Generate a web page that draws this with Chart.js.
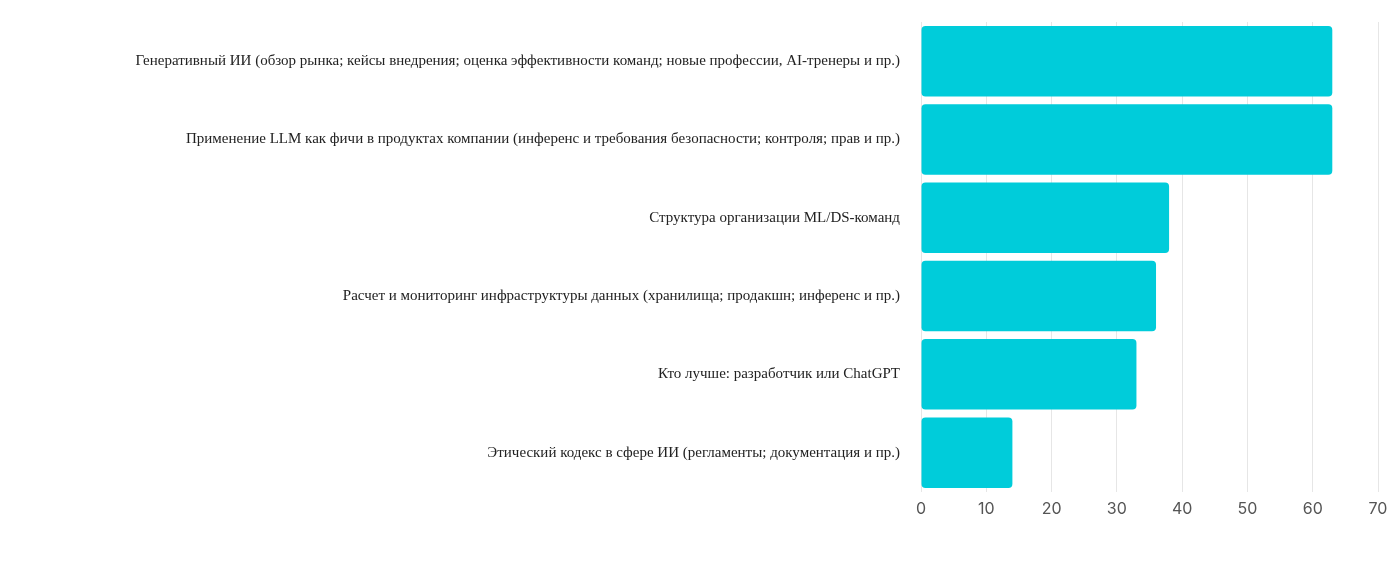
<!DOCTYPE html>
<html><head><meta charset="utf-8">
<script src="https://cdn.jsdelivr.net/npm/chart.js@4/dist/chart.umd.min.js"></script>
<style>html,body{margin:0;padding:0;background:#fff}#w{width:1400px;height:567px}</style>
</head><body><div id="w"><canvas id="c"></canvas></div>
<script>
const categories=["Генеративный ИИ (обзор рынка; кейсы внедрения; оценка эффективности команд; новые профессии, AI-тренеры и пр.)",
"Применение LLM как фичи в продуктах компании (инференс и требования безопасности; контроля; прав и пр.)",
"Структура организации ML/DS-команд",
"Расчет и мониторинг инфраструктуры данных (хранилища; продакшн; инференс и пр.)",
"Кто лучше: разработчик или ChatGPT",
"Этический кодекс в сфере ИИ (регламенты; документация и пр.)"];
const values=[63,63,38,36,33,14];
const xTicks=[0,10,20,30,40,50,60,70];
new Chart(document.getElementById('c'),{type:'bar',
data:{labels:categories,datasets:[{data:values,backgroundColor:'#00CCDA',borderRadius:4,borderSkipped:false,barPercentage:0.9,categoryPercentage:1}]},
options:{indexAxis:'y',responsive:true,maintainAspectRatio:false,animation:false,
layout:{padding:{top:-9,right:22,bottom:40,left:0}},
plugins:{legend:{display:false},tooltip:{enabled:false}},
scales:{x:{min:0,max:70,afterBuildTicks:a=>{a.ticks=xTicks.map(v=>({value:v}));},
grid:{color:'#e6e6e6',drawTicks:false},border:{display:false},
ticks:{padding:8,color:'#555',font:{family:'Inter',size:16}}},
y:{afterFit:s=>{s.width=921;},grid:{display:false},border:{display:false},
ticks:{padding:13,color:'#222',font:{family:'Liberation Serif',size:15}}}}}});
</script></body></html>
